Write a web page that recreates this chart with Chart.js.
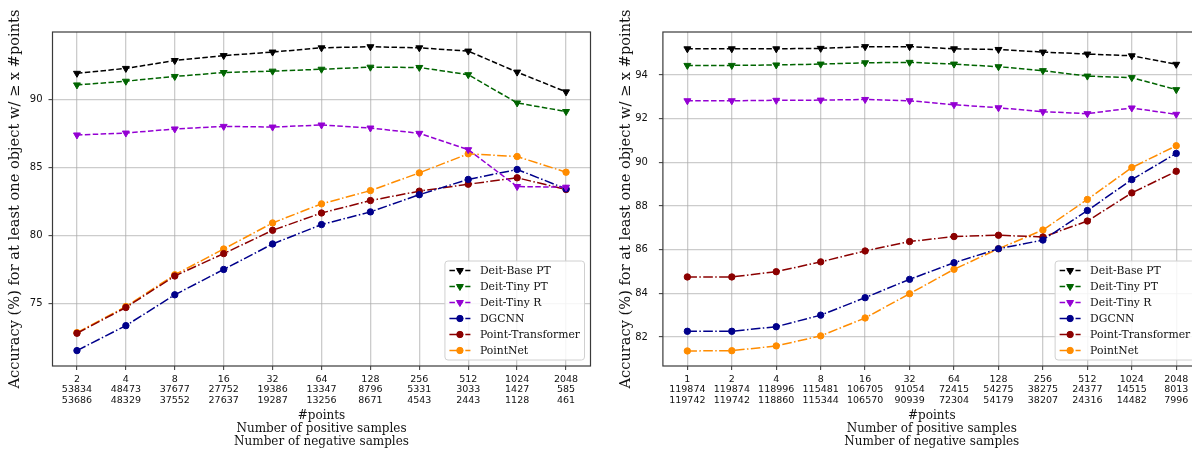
<!DOCTYPE html>
<html>
<head>
<meta charset="utf-8">
<script src="https://cdn.jsdelivr.net/npm/chart.js@4.4.0/dist/chart.umd.min.js"></script>
<style>
  html, body { margin: 0; padding: 0; background: #fff; overflow: hidden; }
  #wrap { position: relative; width: 1192px; height: 449px; overflow: hidden; }
  canvas { position: absolute; top: 0; }
  #left { left: 0; }
  #right { left: 600px; }
</style>
</head>
<body>
<div id="wrap">
  <canvas id="left" width="600" height="449"></canvas>
  <canvas id="right" width="610" height="449"></canvas>
</div>
<script>
// ---- data: left panel ----
var leftPoints = ['2', '4', '8', '16', '32', '64', '128', '256', '512', '1024', '2048'];
var leftPositives = ['53834', '48473', '37677', '27752', '19386', '13347', '8796', '5331', '3033', '1427', '585'];
var leftNegatives = ['53686', '48329', '37552', '27637', '19287', '13256', '8671', '4543', '2443', '1128', '461'];
var leftTicks = [75, 80, 85, 90];

var leftDeitBasePT = [91.9, 92.26, 92.84, 93.2, 93.46, 93.77, 93.85, 93.77, 93.53, 91.99, 90.54];
var leftDeitTinyPT = [91.05, 91.32, 91.67, 91.96, 92.06, 92.2, 92.35, 92.33, 91.8, 89.73, 89.1];
var leftDeitTinyR = [87.38, 87.52, 87.82, 88.01, 87.96, 88.11, 87.89, 87.5, 86.3, 83.6, 83.55];
var leftDGCNN = [71.57, 73.4, 75.66, 77.52, 79.39, 80.81, 81.74, 83.0, 84.12, 84.85, 83.43];
var leftPointTransformer = [72.84, 74.73, 77.04, 78.68, 80.39, 81.66, 82.57, 83.26, 83.77, 84.24, 83.38];
var leftPointNet = [72.89, 74.8, 77.13, 79.02, 80.93, 82.33, 83.3, 84.6, 86.0, 85.8, 84.65];

// ---- data: right panel ----
var rightPoints = ['1', '2', '4', '8', '16', '32', '64', '128', '256', '512', '1024', '2048'];
var rightPositives = ['119874', '119874', '118996', '115481', '106705', '91054', '72415', '54275', '38275', '24377', '14515', '8013'];
var rightNegatives = ['119742', '119742', '118860', '115344', '106570', '90939', '72304', '54179', '38207', '24316', '14482', '7996'];
var rightTicks = [82, 84, 86, 88, 90, 92, 94];

var rightDeitBasePT = [95.2, 95.2, 95.2, 95.22, 95.3, 95.3, 95.2, 95.17, 95.05, 94.96, 94.88, 94.49];
var rightDeitTinyPT = [94.44, 94.44, 94.46, 94.5, 94.56, 94.58, 94.5, 94.38, 94.2, 93.95, 93.88, 93.33];
var rightDeitTinyR = [92.82, 92.82, 92.84, 92.85, 92.88, 92.82, 92.64, 92.5, 92.32, 92.23, 92.49, 92.2];
var rightDGCNN = [82.26, 82.26, 82.47, 83.0, 83.8, 84.64, 85.4, 86.04, 86.44, 87.79, 89.21, 90.41];
var rightPointTransformer = [84.75, 84.75, 84.99, 85.44, 85.94, 86.37, 86.6, 86.66, 86.58, 87.31, 88.6, 89.59];
var rightPointNet = [81.36, 81.37, 81.59, 82.05, 82.87, 83.98, 85.1, 86.04, 86.9, 88.3, 89.76, 90.76];

var seriesNames = ['Deit-Base PT', 'Deit-Tiny PT', 'Deit-Tiny R', 'DGCNN', 'Point-Transformer', 'PointNet'];
var seriesColors = ['#000000', '#006400', '#9400d3', '#00008b', '#8b0000', '#ff8c00'];

var yTitle = 'Accuracy (%) for at least one object w/ \u2265 x #points';
var xTitle = ['#points', 'Number of positive samples', 'Number of negative samples'];

var DASH = [5.5, 2.4];
var DASHDOT = [9.6, 2.4, 1.5, 2.4];
var SERIF = '"DejaVu Serif", serif';
var SANS = '"DejaVu Sans", sans-serif';
var GRID = 'rgba(170,170,170,0.6)';

function makeDatasets(values) {
  return values.map(function (v, i) {
    var tri = i < 3;
    return {
      label: seriesNames[i],
      // x is the position of the #points class (0, 1, 2, ...)
      data: v.map(function (y, k) { return { x: k, y: y }; }),
      borderColor: seriesColors[i],
      backgroundColor: seriesColors[i],
      pointBackgroundColor: seriesColors[i],
      pointBorderColor: seriesColors[i],
      borderWidth: 1.5,
      borderDash: tri ? DASH : DASHDOT,
      pointStyle: tri ? 'triangle' : 'circle',
      pointRotation: tri ? 180 : 0,
      pointRadius: tri ? 4 : 3.2,
      pointBorderWidth: 1,
      tension: 0
    };
  });
}

function drawMarker(ctx, style, x, y, color) {
  ctx.save();
  ctx.setLineDash([]);
  ctx.fillStyle = color;
  ctx.strokeStyle = color;
  ctx.lineWidth = 1;
  ctx.beginPath();
  if (style === 'triangle') {
    var r = 4;
    ctx.moveTo(x, y + r);
    ctx.lineTo(x - r * 0.866, y - r * 0.5);
    ctx.lineTo(x + r * 0.866, y - r * 0.5);
    ctx.closePath();
  } else {
    ctx.arc(x, y, 3.2, 0, Math.PI * 2);
  }
  ctx.fill();
  ctx.stroke();
  ctx.restore();
}

// frame round the axes and a legend box in the lower right
var framePlugin = {
  id: 'frameLegend',
  afterDatasetsDraw: function (chart) {
    var ctx = chart.ctx, a = chart.chartArea;
    ctx.save();
    ctx.strokeStyle = '#3a3a3a';
    ctx.lineWidth = 1.2;
    ctx.strokeRect(a.left, a.top, a.right - a.left, a.bottom - a.top);

    var sets = chart.data.datasets;
    ctx.font = '10.8px ' + SERIF;
    var textW = 0;
    sets.forEach(function (d) { textW = Math.max(textW, ctx.measureText(d.label).width); });
    var rowH = 16;
    var w = 35 + textW + 4.5;
    var h = rowH * sets.length + 3;
    var x0 = a.right - 6 - w, y0 = a.bottom - 6 - h;

    ctx.beginPath();
    if (ctx.roundRect) ctx.roundRect(x0, y0, w, h, 3); else ctx.rect(x0, y0, w, h);
    ctx.fillStyle = 'rgba(255,255,255,0.85)';
    ctx.fill();
    ctx.strokeStyle = '#d0d0d0';
    ctx.lineWidth = 1;
    ctx.stroke();

    sets.forEach(function (d, i) {
      var cy = y0 + 1.5 + rowH * (i + 0.5);
      ctx.save();
      ctx.strokeStyle = d.borderColor;
      ctx.lineWidth = 1.5;
      ctx.setLineDash(d.borderDash);
      ctx.beginPath();
      ctx.moveTo(x0 + 4.5, cy);
      ctx.lineTo(x0 + 25.5, cy);
      ctx.stroke();
      ctx.restore();
      drawMarker(ctx, d.pointStyle, x0 + 15, cy, d.borderColor);
      ctx.fillStyle = '#111';
      ctx.textBaseline = 'middle';
      ctx.textAlign = 'left';
      ctx.fillText(d.label, x0 + 35, cy + 0.5);
    });
    ctx.restore();
  }
};

function makeChart(id, points, pos, neg, values, ticks, xMargin, yMin, yMax, yWidth, yTitlePad, yTickPad, padRight) {
  var n = points.length;
  return new Chart(document.getElementById(id), {
    type: 'line',
    data: { datasets: makeDatasets(values) },
    plugins: [framePlugin],
    options: {
      responsive: false,
      animation: false,
      devicePixelRatio: 1,
      layout: { padding: { top: 32, right: padRight, bottom: 0, left: 0 } },
      plugins: { legend: { display: false }, tooltip: { enabled: false } },
      scales: {
        x: {
          type: 'linear',
          min: -xMargin,
          max: n - 1 + xMargin,
          afterBuildTicks: function (s) { s.ticks = points.map(function (p, i) { return { value: i }; }); },
          grid: { color: GRID, lineWidth: 1.3, drawTicks: true, tickLength: 4, tickColor: '#333', tickWidth: 1 },
          border: { display: false },
          ticks: {
            color: '#111', padding: 4, maxRotation: 0, autoSkip: false,
            font: { family: SANS, size: 9.5, lineHeight: 1.1 },
            callback: function (v) { return [points[v], pos[v], neg[v]]; }
          },
          title: { display: true, text: xTitle, color: '#111', padding: { top: 0, bottom: 0.8 }, font: { family: SERIF, size: 12, lineHeight: 1.08 } },
          afterFit: function (s) { s.height = 83; }
        },
        y: {
          min: yMin,
          max: yMax,
          afterBuildTicks: function (s) { s.ticks = ticks.map(function (v) { return { value: v }; }); },
          grid: { color: GRID, lineWidth: 1.3, drawTicks: true, tickLength: 4, tickColor: '#333', tickWidth: 1 },
          border: { display: false },
          ticks: { color: '#111', padding: yTickPad, font: { family: SANS, size: 10 } },
          title: { display: true, text: yTitle, color: '#111', padding: { top: yTitlePad, bottom: 0 }, font: { family: SERIF, size: 14.6 } },
          afterFit: function (s) { s.width = yWidth; }
        }
      }
    }
  });
}

makeChart('left', leftPoints, leftPositives, leftNegatives,
  [leftDeitBasePT, leftDeitTinyPT, leftDeitTinyR, leftDGCNN, leftPointTransformer, leftPointNet],
  leftTicks, 0.5, 70.44, 94.93, 52.5, 6.5, 6, 9.5);

makeChart('right', rightPoints, rightPositives, rightNegatives,
  [rightDeitBasePT, rightDeitTinyPT, rightDeitTinyR, rightDGCNN, rightPointTransformer, rightPointNet],
  rightTicks, 0.55, 80.67, 95.97, 62.9, 17.3, 11, 9.3);
</script>
</body>
</html>
